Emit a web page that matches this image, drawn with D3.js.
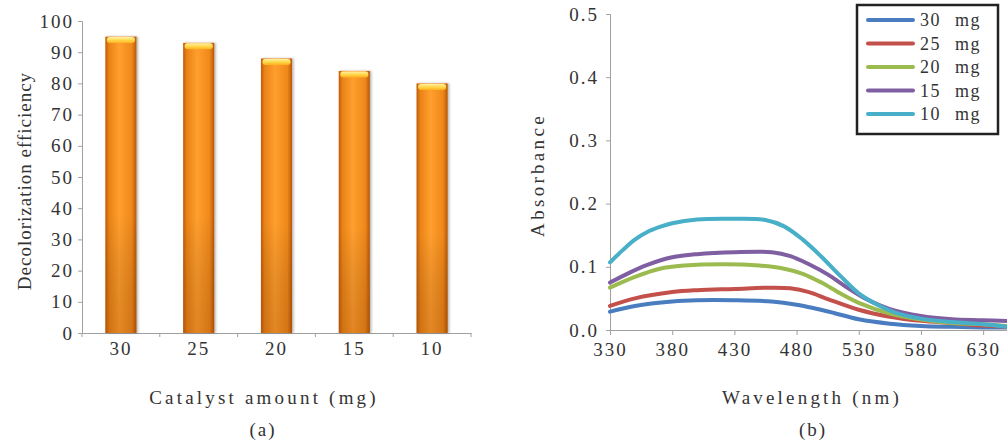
<!DOCTYPE html>
<html><head><meta charset="utf-8">
<script src="https://cdn.jsdelivr.net/npm/d3@7"></script>
<style>
html,body{margin:0;padding:0;background:#fff;}
svg{display:block;}
text{font-family:"Liberation Serif","DejaVu Serif",serif;fill:#333;}
</style></head>
<body>
<svg id="chart" width="1007" height="440"></svg>
<script>
// ---- Panel (a) data ----
const catalystAmounts = ["30", "25", "20", "15", "10"];
const decolorization = [95, 93, 88, 84, 80];
const effTicks = [0, 10, 20, 30, 40, 50, 60, 70, 80, 90, 100];

// ---- Panel (b) data ----
const seriesNames = ["30 mg", "25 mg", "20 mg", "15 mg", "10 mg"];
const seriesColors = ["#4a7cc0", "#c4504c", "#9bbb4f", "#7f5fa2", "#47afc8"];
const wl30 = [330, 350, 380, 400, 430, 460, 480, 495, 510, 530, 555, 580, 605, 630, 650];
const abs30 = [0.029, 0.038, 0.045, 0.047, 0.047, 0.045, 0.040, 0.034, 0.027, 0.017, 0.010, 0.0065, 0.005, 0.004, 0.004];
const wl25 = [330, 350, 380, 400, 430, 460, 475, 490, 505, 530, 555, 580, 605, 630, 650];
const abs25 = [0.038, 0.050, 0.060, 0.063, 0.065, 0.067, 0.066, 0.060, 0.049, 0.032, 0.021, 0.0145, 0.011, 0.007, 0.005];
const wl20 = [330, 350, 370, 390, 420, 450, 470, 485, 500, 515, 530, 555, 580, 605, 630, 650];
const abs20 = [0.067, 0.084, 0.097, 0.102, 0.104, 0.102, 0.097, 0.089, 0.075, 0.058, 0.043, 0.026, 0.0165, 0.011, 0.009, 0.006];
const wl15 = [330, 345, 360, 380, 400, 430, 460, 475, 490, 505, 520, 535, 555, 580, 605, 630, 650];
const abs15 = [0.075, 0.090, 0.103, 0.115, 0.120, 0.123, 0.123, 0.117, 0.104, 0.088, 0.068, 0.050, 0.033, 0.022, 0.017, 0.0155, 0.014];
const wl10 = [330, 340, 350, 360, 370, 380, 400, 430, 455, 470, 485, 500, 515, 530, 545, 560, 580, 605, 630, 650];
const abs10 = [0.107, 0.126, 0.143, 0.155, 0.163, 0.169, 0.175, 0.176, 0.174, 0.164, 0.143, 0.116, 0.086, 0.058, 0.040, 0.027, 0.018, 0.0125, 0.009, 0.005];
const wlTicks = [330, 380, 430, 480, 530, 580, 630];
const absTicks = [0, 0.1, 0.2, 0.3, 0.4, 0.5];

const svg = d3.select("#chart");
const defs = svg.append("defs");
const axisColor = "#a0a0a0";
const tickFont = "19px", tickSpacing = "2px";

// ===== Panel (a) =====
const xa = d3.scaleBand().domain(catalystAmounts).range([82, 471]).paddingInner(0.6).paddingOuter(0.3);
const ya = d3.scaleLinear().domain([0, 100]).range([333, 21]);

const gH = defs.append("linearGradient").attr("id", "barH").attr("x1", 0).attr("x2", 1).attr("y1", 0).attr("y2", 0);
[[0, "#c05c08"], [0.12, "#ea8317"], [0.45, "#ff9f2e"], [0.85, "#ef881b"], [1, "#b85808"]].forEach(s =>
  gH.append("stop").attr("offset", s[0]).attr("stop-color", s[1]));
const gV = defs.append("linearGradient").attr("id", "barV").attr("x1", 0).attr("x2", 0).attr("y1", 0).attr("y2", 1);
[[0, "#ffffff", 0.0], [0.6, "#000000", 0.0], [1, "#7a3000", 0.22]].forEach(s =>
  gV.append("stop").attr("offset", s[0]).attr("stop-color", s[1]).attr("stop-opacity", s[2]));
const gCap = defs.append("linearGradient").attr("id", "barCap").attr("x1", 0).attr("x2", 0).attr("y1", 0).attr("y2", 1);
[[0, "#fff3a8"], [0.5, "#ffd84a"], [1, "#ffb020"]].forEach(s =>
  gCap.append("stop").attr("offset", s[0]).attr("stop-color", s[1]));
const shadow = defs.append("filter").attr("id", "shadow").attr("x", "-20%").attr("y", "-5%").attr("width", "150%").attr("height", "110%");
shadow.append("feDropShadow").attr("dx", 1.5).attr("dy", 0).attr("stdDeviation", 1.2).attr("flood-color", "#000").attr("flood-opacity", 0.3);

const ga = svg.append("g");
// axes
const yAxisA = d3.axisLeft(ya).tickValues(effTicks).tickSize(4).tickPadding(4);
const yag = ga.append("g").attr("transform", "translate(82,0)").call(yAxisA);
yag.selectAll("path,line").attr("stroke", axisColor);
yag.selectAll("text").style("font-size", tickFont).style("letter-spacing", tickSpacing).attr("fill", "#333");

const xAxisA = d3.axisBottom(xa).tickSize(0).tickPadding(9);
const xag = ga.append("g").attr("transform", "translate(0,333)").call(xAxisA);
xag.select("path").attr("stroke", axisColor);
xag.selectAll("text").style("font-size", tickFont).style("letter-spacing", tickSpacing).attr("fill", "#333");
// boundary ticks
const stepA = xa.step();
d3.range(catalystAmounts.length + 1).forEach(i => {
  const x0 = xa.range()[0] + i * stepA;
  ga.append("line").attr("x1", x0).attr("x2", x0).attr("y1", 333).attr("y2", 337).attr("stroke", axisColor);
});

// bars
const bars = ga.selectAll("g.bar").data(catalystAmounts.map((c, i) => ({c, v: decolorization[i]}))).join("g").attr("class", "bar");
bars.append("rect").attr("x", d => xa(d.c)).attr("y", d => ya(d.v)).attr("width", xa.bandwidth())
  .attr("height", d => ya(0) - ya(d.v)).attr("fill", "url(#barH)").attr("filter", "url(#shadow)");
bars.append("rect").attr("x", d => xa(d.c)).attr("y", d => ya(d.v)).attr("width", xa.bandwidth())
  .attr("height", d => ya(0) - ya(d.v)).attr("fill", "url(#barV)");
bars.append("rect").attr("x", d => xa(d.c) + 1.5).attr("y", d => ya(d.v) + 0.5).attr("width", xa.bandwidth() - 3)
  .attr("height", 6).attr("rx", 3).attr("fill", "url(#barCap)");

// titles
ga.append("text").attr("x", 264).attr("y", 404).attr("text-anchor", "middle")
  .style("font-size", "19px").style("letter-spacing", "3.2px").text("Catalyst amount (mg)");
ga.append("text").attr("x", 263).attr("y", 436).attr("text-anchor", "middle")
  .style("font-size", "19px").style("letter-spacing", "2px").text("(a)");
ga.append("text").attr("transform", "translate(31,181) rotate(-90)").attr("text-anchor", "middle")
  .style("font-size", "19px").style("letter-spacing", "1px").text("Decolorization efficiency");

// ===== Panel (b) =====
const xb = d3.scaleLinear().domain([330, 650]).range([610, 1008]);
const yb = d3.scaleLinear().domain([0, 0.5]).range([330, 14]);
const gb = svg.append("g");

const yAxisB = d3.axisLeft(yb).tickValues(absTicks).tickFormat(d3.format(".1f")).tickSize(4).tickPadding(7);
const ybg = gb.append("g").attr("transform", "translate(610,0)").call(yAxisB);
ybg.selectAll("path,line").attr("stroke", axisColor);
ybg.selectAll("text").style("font-size", tickFont).style("letter-spacing", tickSpacing).attr("fill", "#333");

const xAxisB = d3.axisBottom(xb).tickValues(wlTicks).tickSize(5).tickPadding(8);
const xbg = gb.append("g").attr("transform", "translate(0,330)").call(xAxisB);
xbg.selectAll("path,line").attr("stroke", axisColor);
xbg.selectAll("text").style("font-size", tickFont).style("letter-spacing", tickSpacing).attr("fill", "#333");

const wls = [wl30, wl25, wl20, wl15, wl10];
const abss = [abs30, abs25, abs20, abs15, abs10];
const line = d3.line().x(d => xb(d[0])).y(d => yb(d[1])).curve(d3.curveCatmullRom.alpha(0.5));
wls.forEach((w, i) => {
  gb.append("path").datum(w.map((x, j) => [x, abss[i][j]]))
    .attr("d", line).attr("fill", "none").attr("stroke", seriesColors[i])
    .attr("stroke-width", 4).attr("stroke-linejoin", "round").attr("stroke-linecap", "round");
});

gb.append("text").attr("x", 812).attr("y", 404).attr("text-anchor", "middle")
  .style("font-size", "19px").style("letter-spacing", "3.2px").text("Wavelength (nm)");
gb.append("text").attr("x", 813).attr("y", 436).attr("text-anchor", "middle")
  .style("font-size", "19px").style("letter-spacing", "2px").text("(b)");
gb.append("text").attr("transform", "translate(544,175) rotate(-90)").attr("text-anchor", "middle")
  .style("font-size", "19px").style("letter-spacing", "3.3px").text("Absorbance");

// legend
const lg = gb.append("g");
lg.append("rect").attr("x", 857).attr("y", 5).attr("width", 141).attr("height", 129)
  .attr("fill", "#fff").attr("stroke", "#222").attr("stroke-width", 2.5);
seriesNames.forEach((n, i) => {
  const yy = 20 + i * 23.5;
  lg.append("line").attr("x1", 868).attr("x2", 913).attr("y1", yy).attr("y2", yy)
    .attr("stroke", seriesColors[i]).attr("stroke-width", 4).attr("stroke-linecap", "round");
  lg.append("text").attr("x", 920).attr("y", yy + 6).style("font-size", "18px")
    .style("letter-spacing", "1.5px").style("word-spacing", "8px").attr("fill", "#333").text(n);
});
</script>
</body></html>
